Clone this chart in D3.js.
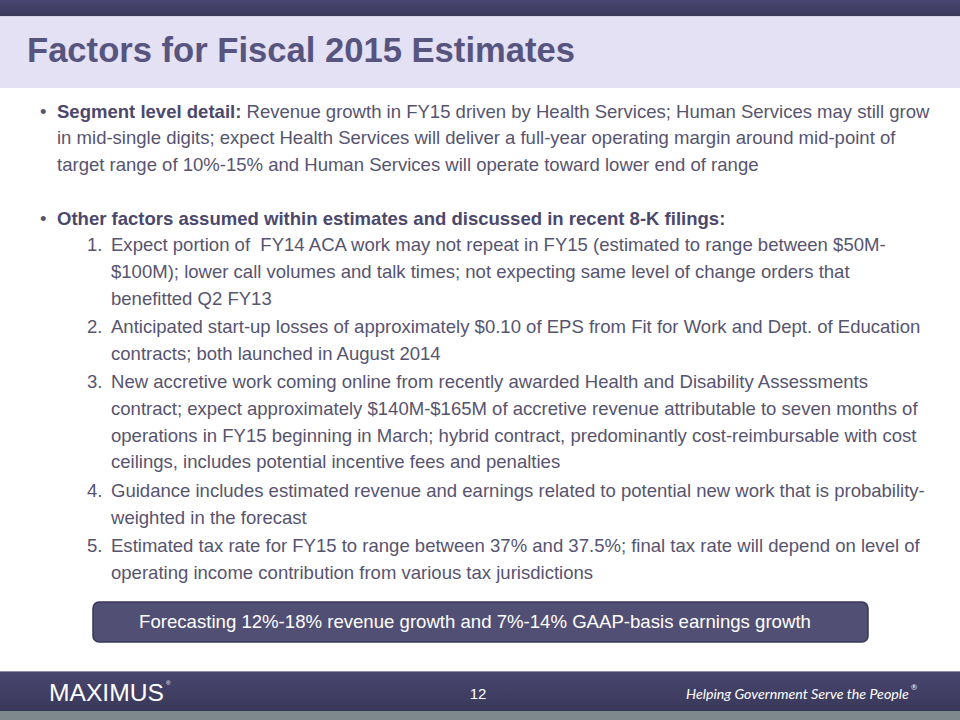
<!DOCTYPE html>
<html>
<head>
<meta charset="utf-8">
<script src="https://cdn.jsdelivr.net/npm/d3@7"></script>
<style>
html,body{margin:0;padding:0;background:#fff;}
svg{display:block;}
</style>
</head>
<body>
<div id="chart"></div>
<script>
// ---- content ----
const title = "Factors for Fiscal 2015 Estimates";
const bullet1Lead = "Segment level detail:";
const bullet1Lines = [
  " Revenue growth in FY15 driven by Health Services; Human Services may still grow",
  "in mid-single digits; expect Health Services will deliver a full-year operating margin around mid-point of",
  "target range of 10%-15% and Human Services will operate toward lower end of range"
];
const bullet2Lead = "Other factors assumed within estimates and discussed in recent 8-K filings:";
const itemNumbers = ["1.", "2.", "3.", "4.", "5."];
const itemLines = [
  ["Expect portion of  FY14 ACA work may not repeat in FY15 (estimated to range between $50M-",
   "$100M); lower call volumes and talk times; not expecting same level of change orders that",
   "benefitted Q2 FY13"],
  ["Anticipated start-up losses of approximately $0.10 of EPS from Fit for Work and Dept. of Education",
   "contracts; both launched in August 2014"],
  ["New accretive work coming online from recently awarded Health and Disability Assessments",
   "contract; expect approximately $140M-$165M of accretive revenue attributable to seven months of",
   "operations in FY15 beginning in March; hybrid contract, predominantly cost-reimbursable with cost",
   "ceilings, includes potential incentive fees and penalties"],
  ["Guidance includes estimated revenue and earnings related to potential new work that is probability-",
   "weighted in the forecast"],
  ["Estimated tax rate for FY15 to range between 37% and 37.5%; final tax rate will depend on level of",
   "operating income contribution from various tax jurisdictions"]
];
const calloutText = "Forecasting 12%-18% revenue growth and 7%-14% GAAP-basis earnings growth";
const logoText = "MAXIMUS";
const pageNumber = "12";
const tagline = "Helping Government Serve the People";
const regMark = "\u00AE";

// ---- layout ----
const W = 960, H = 720;
const svg = d3.select("#chart").append("svg").attr("width", W).attr("height", H);
const defs = svg.append("defs");
const g1 = defs.append("linearGradient").attr("id","topbar").attr("x1",0).attr("y1",0).attr("x2",0).attr("y2",1);
g1.append("stop").attr("offset","0%").attr("stop-color","#4a4872");
g1.append("stop").attr("offset","100%").attr("stop-color","#393759");
const g2 = defs.append("linearGradient").attr("id","footbar").attr("x1",0).attr("y1",0).attr("x2",0).attr("y2",1);
g2.append("stop").attr("offset","0%").attr("stop-color","#48466f");
g2.append("stop").attr("offset","100%").attr("stop-color","#3a3859");

// header
svg.append("rect").attr("x",0).attr("y",0).attr("width",W).attr("height",16).attr("fill","url(#topbar)");
svg.append("rect").attr("x",0).attr("y",16).attr("width",W).attr("height",72).attr("fill","#e3e1f3");
svg.append("rect").attr("x",0).attr("y",16).attr("width",W).attr("height",1).attr("fill","#d6d4e8");
svg.append("text").attr("x",27).attr("y",62)
  .attr("font-family","'Liberation Sans', Arial, sans-serif").attr("font-weight","bold")
  .attr("font-size",35).attr("fill","#57547f")
  .attr("textLength",548).attr("lengthAdjust","spacingAndGlyphs").text(title);

// body
const font = "'Liberation Sans', Arial, sans-serif";
const fs = 18.55, lh = 26.7;
const cBold = "#4b486c", cReg = "#57546f";
const body = svg.append("g").attr("font-family",font).attr("font-size",fs);

let y = 117.7;
body.append("text").attr("x",40).attr("y",y).attr("fill",cReg).text("\u2022");
bullet1Lines.forEach((ln,i)=>{
  const tx = body.append("text").attr("x",57).attr("y",y).attr("fill",cReg).attr("xml:space","preserve");
  if(i===0){
    tx.append("tspan").attr("font-weight","bold").attr("fill",cBold).text(bullet1Lead);
    tx.append("tspan").text(ln);
  } else tx.text(ln);
  y += lh;
});
y += lh;
body.append("text").attr("x",40).attr("y",y).attr("fill",cReg).text("\u2022");
body.append("text").attr("x",57).attr("y",y).attr("fill",cBold).attr("font-weight","bold").text(bullet2Lead);
y += lh;
itemLines.forEach((lines,k)=>{
  body.append("text").attr("x",87).attr("y",y).attr("fill",cReg).text(itemNumbers[k]);
  lines.forEach(ln=>{
    body.append("text").attr("x",111).attr("y",y).attr("fill",cReg).attr("xml:space","preserve").text(ln);
    y += lh;
  });
  y += 1.8;
});

// callout
svg.append("rect").attr("x",93).attr("y",602).attr("width",775).attr("height",40).attr("rx",6)
  .attr("fill","#524f74").attr("stroke","#3a3858").attr("stroke-width",1.5);
svg.append("text").attr("x",475).attr("y",628).attr("text-anchor","middle")
  .attr("font-family",font).attr("font-size",18.6).attr("fill","#ffffff").text(calloutText);

// footer
svg.append("rect").attr("x",0).attr("y",671).attr("width",W).attr("height",40).attr("fill","url(#footbar)");
svg.append("rect").attr("x",0).attr("y",671).attr("width",W).attr("height",1).attr("fill","#8e8cab");
svg.append("rect").attr("x",0).attr("y",711).attr("width",W).attr("height",9).attr("fill","#7e898d");

function fitText(sel, baseSize, target){
  sel.attr("font-size", baseSize);
  const len = sel.node().getComputedTextLength();
  if (len > target) sel.attr("font-size", baseSize * target / len);
  return sel;
}
const logo = svg.append("text").attr("x",49).attr("y",701)
  .attr("font-family","'Liberation Sans Narrow', 'Liberation Sans', Arial, sans-serif")
  .attr("fill","#ffffff").text(logoText);
fitText(logo, 27, 115);
const lb = logo.node().getBBox();
svg.append("text").attr("x",lb.x + lb.width + 2).attr("y",685).attr("font-family",font).attr("font-size",6).attr("fill","#fff").text(regMark);
svg.append("text").attr("x",478).attr("y",699).attr("text-anchor","middle")
  .attr("font-family","'Liberation Sans Narrow', 'Liberation Sans', Arial, sans-serif").attr("font-size",15).attr("fill","#ffffff").text(pageNumber);
const tag = svg.append("text").attr("x",686).attr("y",699)
  .attr("font-family","Lato, 'Open Sans', sans-serif").attr("font-style","italic")
  .attr("fill","#ffffff").text(tagline);
fitText(tag, 15.5, 223);
const tb = tag.node().getBBox();
svg.append("text").attr("x",tb.x + tb.width + 2).attr("y",690)
  .attr("font-family","Lato, 'Open Sans', sans-serif").attr("font-size",7.5).attr("fill","#ffffff").text(regMark);
</script>
</body>
</html>
